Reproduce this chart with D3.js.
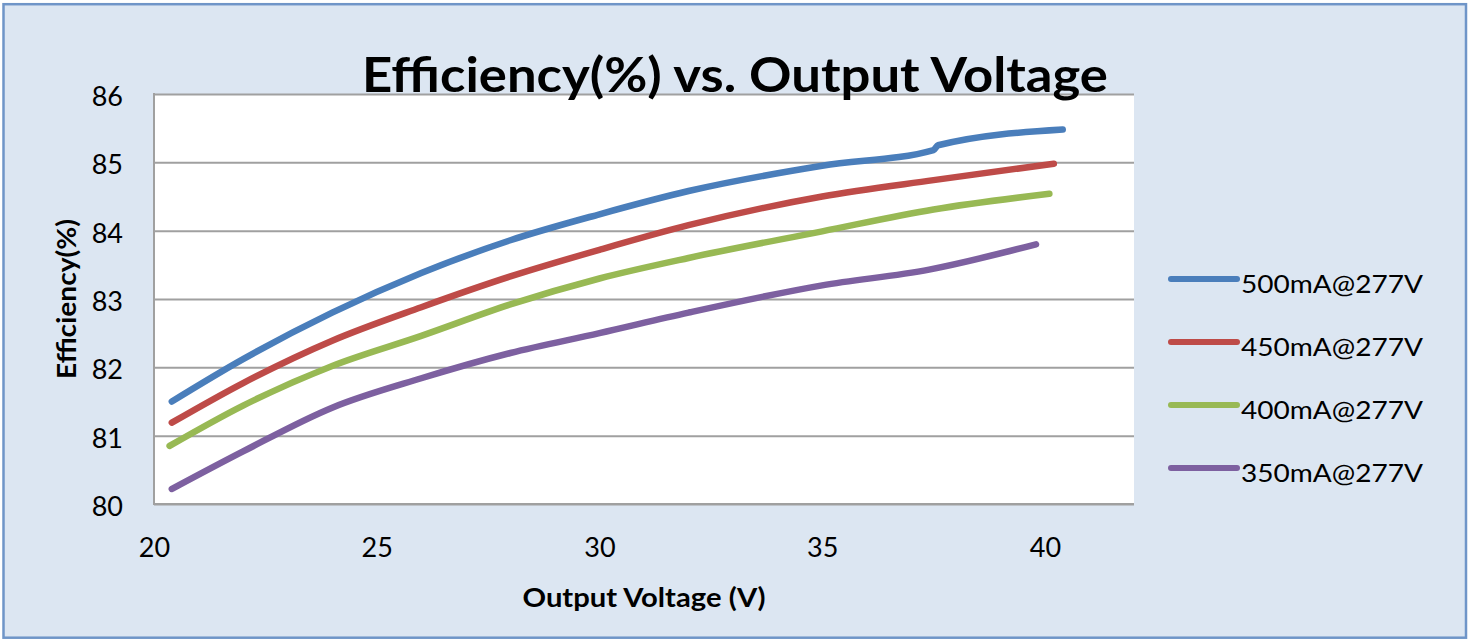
<!DOCTYPE html>
<html>
<head>
<meta charset="utf-8">
<script src="https://cdn.jsdelivr.net/npm/d3@7"></script>
<style>
  body { margin: 0; background: #fff; }
  svg { display: block; }
  text { font-family: Lato, "Liberation Sans", sans-serif; fill: #000; }
</style>
</head>
<body>
<script>
// values
const seriesNames = ["500mA@277V", "450mA@277V", "400mA@277V", "350mA@277V"];
const seriesColors = ["#4a7ebb", "#be4b48", "#98b954", "#7d60a0"];

const volts500 = [20.4, 22, 24, 26, 28, 30, 32, 35, 37.5, 37.6, 40.4];
const eff500 = [81.5, 82.12, 82.8, 83.38, 83.86, 84.24, 84.58, 84.95, 85.18, 85.25, 85.48];

const volts450 = [20.4, 22, 24, 26, 28, 30, 32, 35, 37.5, 40.2];
const eff450 = [81.19, 81.77, 82.39, 82.88, 83.33, 83.72, 84.08, 84.5, 84.74, 84.98];

const volts400 = [20.35, 22, 24, 26, 28, 30, 32, 35, 37.5, 40.1];
const eff400 = [80.85, 81.44, 82.02, 82.46, 82.92, 83.3, 83.6, 83.99, 84.31, 84.54];

const volts350 = [20.4, 22, 24, 26, 28, 30, 32, 35, 37.4, 39.8];
const eff350 = [80.22, 80.77, 81.41, 81.84, 82.21, 82.5, 82.8, 83.2, 83.43, 83.8];

const xTicks = [20, 25, 30, 35, 40];
const yTicks = [80, 81, 82, 83, 84, 85, 86];

const allSeries = [
  { name: seriesNames[0], color: seriesColors[0], xs: volts500, ys: eff500 },
  { name: seriesNames[1], color: seriesColors[1], xs: volts450, ys: eff450 },
  { name: seriesNames[2], color: seriesColors[2], xs: volts400, ys: eff400 },
  { name: seriesNames[3], color: seriesColors[3], xs: volts350, ys: eff350 }
];

const W = 1468, H = 639;
const plot = { left: 154, top: 94, right: 1134, bottom: 504 };

const svg = d3.select("body").append("svg")
  .attr("width", W)
  .attr("height", H);

// chart background + border
svg.append("rect")
  .attr("x", 3.5).attr("y", 4.2)
  .attr("width", 1462.5).attr("height", 633.5)
  .attr("fill", "#dce6f2")
  .attr("stroke", "#6f95c8")
  .attr("stroke-width", 2.5);

const x = d3.scaleLinear().domain([20, 42]).range([plot.left, plot.right]);
const y = d3.scaleLinear().domain([80, 86]).range([plot.bottom, plot.top]);

svg.append("rect")
  .attr("x", plot.left).attr("y", plot.top)
  .attr("width", plot.right - plot.left)
  .attr("height", plot.bottom - plot.top)
  .attr("fill", "#fff");

// horizontal gridlines
const grid = svg.append("g")
  .attr("transform", `translate(${plot.left},0)`)
  .call(d3.axisLeft(y).tickValues(yTicks).tickSize(-(plot.right - plot.left)).tickFormat(""));
grid.select(".domain").remove();
grid.selectAll(".tick line").attr("stroke", "#a0a0a0").attr("stroke-width", 2);

// y axis line and labels
svg.append("line")
  .attr("x1", plot.left).attr("x2", plot.left)
  .attr("y1", plot.top - 1).attr("y2", plot.bottom + 1)
  .attr("stroke", "#a0a0a0").attr("stroke-width", 2);

const yAxis = svg.append("g")
  .attr("transform", `translate(${plot.left - 31},0)`)
  .call(d3.axisLeft(y).tickValues(yTicks).tickFormat(d3.format("d")).tickSize(0).tickPadding(0));
yAxis.select(".domain").remove();
yAxis.selectAll("text")
  .attr("dy", "0.42em")
  .style("font-size", "27px")
  .style("font-family", "Lato, sans-serif")
  .attr("fill", "#000");

// x axis line and labels
svg.append("line")
  .attr("x1", plot.left - 1).attr("x2", plot.right)
  .attr("y1", plot.bottom).attr("y2", plot.bottom)
  .attr("stroke", "#a0a0a0").attr("stroke-width", 2);

const xAxis = svg.append("g")
  .attr("transform", `translate(0,${plot.bottom})`)
  .call(d3.axisBottom(x).tickValues(xTicks).tickFormat(d3.format("d")).tickSize(0).tickPadding(0));
xAxis.select(".domain").remove();
xAxis.selectAll("text")
  .attr("y", 53)
  .attr("dy", 0)
  .style("font-size", "27px")
  .style("font-family", "Lato, sans-serif")
  .attr("fill", "#000");

// series lines
const line = d3.line()
  .x(d => x(d[0]))
  .y(d => y(d[1]))
  .curve(d3.curveMonotoneX);

svg.append("g").selectAll("path")
  .data(allSeries)
  .enter().append("path")
  .attr("d", s => line(s.xs.map((v, i) => [v, s.ys[i]])))
  .attr("fill", "none")
  .attr("stroke", s => s.color)
  .attr("stroke-width", 6.5)
  .attr("stroke-linecap", "round")
  .attr("stroke-linejoin", "round");

// title
svg.append("text")
  .attr("x", 735)
  .attr("y", 92)
  .attr("text-anchor", "middle")
  .attr("textLength", 746)
  .attr("lengthAdjust", "spacingAndGlyphs")
  .style("font-size", "47px")
  .style("font-weight", "bold")
  .text("Efficiency(%) vs. Output Voltage");

// axis titles
svg.append("text")
  .attr("x", (plot.left + plot.right) / 2)
  .attr("y", 607)
  .attr("text-anchor", "middle")
  .attr("textLength", 243)
  .attr("lengthAdjust", "spacingAndGlyphs")
  .style("font-size", "27px")
  .style("font-weight", "bold")
  .text("Output Voltage (V)");

svg.append("text")
  .attr("transform", `translate(76,${(plot.top + plot.bottom) / 2}) rotate(-90)`)
  .attr("text-anchor", "middle")
  .attr("textLength", 160)
  .attr("lengthAdjust", "spacingAndGlyphs")
  .style("font-size", "26px")
  .style("font-weight", "bold")
  .text("Efficiency(%)");

// legend
const legend = svg.append("g")
  .selectAll("g")
  .data(allSeries)
  .enter().append("g")
  .attr("transform", (d, i) => `translate(1171,${279 + i * 63})`);

legend.append("line")
  .attr("x1", 0).attr("x2", 66)
  .attr("y1", 0).attr("y2", 0)
  .attr("stroke", d => d.color)
  .attr("stroke-width", 6)
  .attr("stroke-linecap", "round");

legend.append("text")
  .attr("x", 70)
  .attr("y", 14)
  .attr("textLength", 182)
  .attr("lengthAdjust", "spacingAndGlyphs")
  .style("font-size", "25px")
  .text(d => d.name);
</script>
</body>
</html>
